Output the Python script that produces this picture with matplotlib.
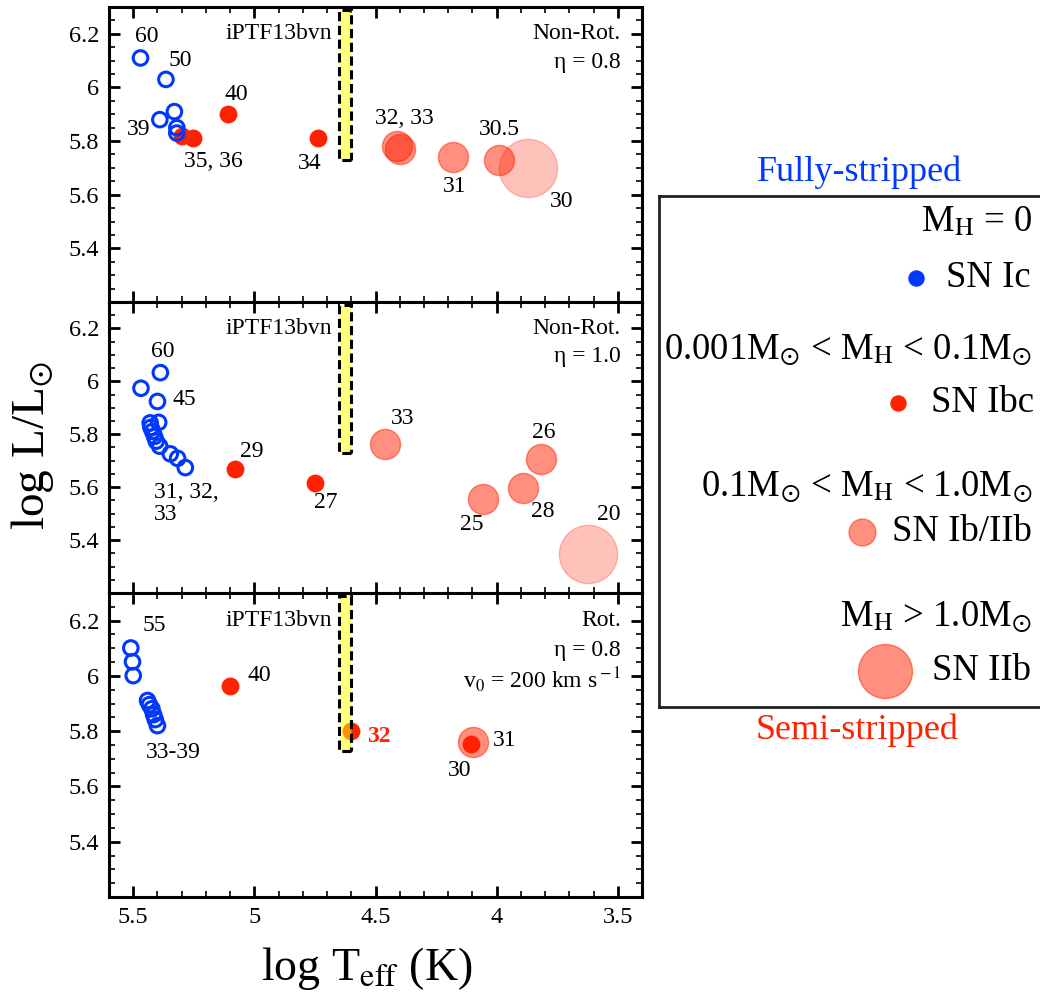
import numpy as np
import matplotlib.pyplot as plt
from matplotlib.patches import Rectangle

plt.rcParams['font.family'] = ['Liberation Serif', 'DejaVu Serif']
plt.rcParams['mathtext.fontset'] = 'stix'

# ---- data: log Teff, log L ----
# panel 1: non-rotating, eta = 0.8
ic1_x = [5.47, 5.365, 5.33, 5.39, 5.32, 5.32]
ic1_y = [6.11, 6.03, 5.91, 5.88, 5.85, 5.83]
ibc1_x = [5.30, 5.253, 5.109, 4.738]
ibc1_y = [5.82, 5.811, 5.90, 5.811]
ibiib1_x = [4.41, 4.40, 4.179, 3.989]
ibiib1_y = [5.78, 5.77, 5.74, 5.731]
iib1_x = [3.869]
iib1_y = [5.70]
lab1_txt = ["60", "50", "39", "40", "35, 36", "34", "32, 33", "31", "30.5", "30"]
lab1_x = [5.443, 5.306, 5.478, 5.074, 5.171, 4.771, 4.379, 4.174, 3.99, 3.731]
lab1_y = [6.19, 6.10, 5.844, 5.972, 5.725, 5.715, 5.885, 5.632, 5.844, 5.576]

# panel 2: non-rotating, eta = 1.0
ic2_x = [5.388, 5.468, 5.40, 5.395, 5.430, 5.427, 5.420, 5.412, 5.405, 5.391, 5.347, 5.317, 5.285]
ic2_y = [6.033, 5.974, 5.924, 5.845, 5.843, 5.826, 5.811, 5.792, 5.774, 5.755, 5.726, 5.709, 5.674]
ibc2_x = [5.079, 4.748]
ibc2_y = [5.667, 5.615]
ibiib2_x = [4.459, 3.818, 3.891, 4.057]
ibiib2_y = [5.765, 5.705, 5.595, 5.557]
iib2_x = [3.621]
iib2_y = [5.348]
lab2_txt = ["60", "45", "29", "27", "33", "26", "28", "25", "20"]
lab2_x = [5.377, 5.289, 5.01, 4.707, 4.39, 3.807, 3.811, 4.103, 3.539]
lab2_y = [6.112, 5.930, 5.736, 5.542, 5.859, 5.805, 5.508, 5.458, 5.496]

# panel 3: rotating, eta = 0.8, v0 = 200 km/s
ic3_x = [5.51, 5.503, 5.50, 5.441, 5.433, 5.423, 5.416, 5.409, 5.40]
ic3_y = [6.101, 6.051, 6.001, 5.911, 5.896, 5.881, 5.860, 5.842, 5.820]
ibc3_x = [5.099, 4.600, 4.107]
ibc3_y = [5.962, 5.800, 5.752]
ibiib3_x = [4.098]
ibiib3_y = [5.761]
iib3_x = []
iib3_y = []
lab3_txt = ["55", "40", "33-39", "31", "30"]
lab3_x = [5.413, 4.978, 5.333, 3.966, 4.153]
lab3_y = [6.182, 6.001, 5.722, 5.767, 5.659]

# iPTF13bvn progenitor box
bvn_teff = (4.60, 4.65)
bvn_lum = (5.73, 6.29)

panel_info = [
    ["Non-Rot.", "η = 0.8"],
    ["Non-Rot.", "η = 1.0"],
    ["Rot.", "η = 0.8", r"v$_0$ = 200 km s$^{\rm -1}$"],
]

BLUE = '#0038ff'
RED = '#ff2200'
MED = (1.0, 0.13, 0.0, 0.5)
BIG = (1.0, 0.13, 0.0, 0.27)

fig = plt.figure(figsize=(10.4, 10.02), dpi=100)
gs = fig.add_gridspec(3, 1, left=109/1040, right=642/1040, top=1-7/1002,
                      bottom=1-897/1002, hspace=0, height_ratios=[294, 290, 303])
axes = [fig.add_subplot(gs[i]) for i in range(3)]

panels = [
    (ic1_x, ic1_y, ibc1_x, ibc1_y, ibiib1_x, ibiib1_y, iib1_x, iib1_y, lab1_txt, lab1_x, lab1_y),
    (ic2_x, ic2_y, ibc2_x, ibc2_y, ibiib2_x, ibiib2_y, iib2_x, iib2_y, lab2_txt, lab2_x, lab2_y),
    (ic3_x, ic3_y, ibc3_x, ibc3_y, ibiib3_x, ibiib3_y, iib3_x, iib3_y, lab3_txt, lab3_x, lab3_y),
]

for i, (ax, p) in enumerate(zip(axes, panels)):
    icx, icy, ibcx, ibcy, medx, medy, bigx, bigy, ltxt, lx, ly = p
    ax.scatter(bigx, bigy, s=1760, color=BIG, lw=1, zorder=2)
    ax.scatter(medx, medy, s=470, color=MED, lw=1, zorder=3)
    ax.scatter(ibcx, ibcy, s=165, color=RED, lw=0, zorder=4)
    ax.scatter(icx, icy, s=110, facecolor='none', edgecolor=BLUE, lw=2.2, zorder=4)
    for t, x, y in zip(ltxt, lx, ly):
        ax.text(x, y, t, ha='center', va='center', fontsize=17)

    ax.add_patch(Rectangle((bvn_teff[0], bvn_lum[0]), bvn_teff[1]-bvn_teff[0],
                           bvn_lum[1]-bvn_lum[0], facecolor=(1, 1, 0, 0.5),
                           edgecolor='k', lw=2.2, ls=(0, (3, 1.5)), zorder=5))
    ax.text(4.678, 6.2, "iPTF13bvn", ha='right', va='center', fontsize=17)
    for k, line in enumerate(panel_info[i]):
        ax.text(3.487, 6.2 - 0.107*k, line, ha='right', va='center', fontsize=17)

    ax.set_xlim(5.6, 3.4)
    ax.set_ylim(5.2, 6.3)
    ax.set_xticks([5.5, 5.0, 4.5, 4.0, 3.5])
    ax.set_xticks(np.arange(3.4, 5.61, 0.1), minor=True)
    ax.set_yticks([5.4, 5.6, 5.8, 6.0, 6.2])
    ax.set_yticks(np.arange(5.2, 6.31, 0.05), minor=True)
    ax.set_yticklabels(['5.4', '5.6', '5.8', '6', '6.2'])
    ax.tick_params(which='both', direction='in', top=True, right=True, labelsize=17.5, pad=7)
    ax.tick_params(which='major', length=8, width=2)
    ax.tick_params(which='minor', length=4, width=1.2)
    for s in ax.spines.values():
        s.set_linewidth(2.2)
    if i < 2:
        ax.set_xticklabels([])
    else:
        ax.set_xticklabels(['5.5', '5', '4.5', '4', '3.5'])

# multi-line label for the low-mass group in the eta = 1.0 panel
axes[1].text(5.416, 5.539, "31, 32,\n33", ha='left', va='center', fontsize=17, linespacing=1.1)
# bold red label for 32 in rotating panel
axes[2].text(4.486, 5.782, "32", color=RED, fontweight='bold', ha='center', va='center', fontsize=17)

fig.text(33/1040, 1-445/1002, r"log L/L$_{\odot}$", rotation=90, ha='center', va='center', fontsize=34)
fig.text(367/1040, 1-968/1002, r"log T$_{\rm eff}$ (K)", ha='center', va='center', fontsize=33)

# legend panel (pixel coordinates)
lax = fig.add_axes([659/1040, 1-707/1002, (1050-659)/1040, (707-196)/1002])
lax.set_xlim(659, 1050)
lax.set_ylim(707, 196)
lax.set_xticks([])
lax.set_yticks([])
for s in lax.spines.values():
    s.set_linewidth(2)
    s.set_color('#222222')

leg_head = [r"M$_{\rm H}$ = 0",
            r"0.001M$_{\odot}$ < M$_{\rm H}$ < 0.1M$_{\odot}$",
            r"0.1M$_{\odot}$ < M$_{\rm H}$ < 1.0M$_{\odot}$",
            r"M$_{\rm H}$ > 1.0M$_{\odot}$"]
leg_head_y = [222, 350, 487, 617]
leg_name = ["SN Ic", "SN Ibc", "SN Ib/IIb", "SN IIb"]
leg_key_x = [916, 898, 862, 885]
leg_key_y = [278, 403, 532, 671]
leg_key_s = [117, 117, 377, 1510]
leg_key_c = [BLUE, RED, MED, MED]
leg_text_x = [946, 931, 892, 932]

for t, y in zip(leg_head, leg_head_y):
    lax.text(1032, y, t, ha='right', va='center', fontsize=26.5)
for t, x, y, s, c, tx in zip(leg_name, leg_key_x, leg_key_y, leg_key_s, leg_key_c, leg_text_x):
    lax.scatter([x], [y], s=s, color=c, lw=1, clip_on=False)
    lax.text(tx, y, t, ha='left', va='center', fontsize=26.5)

fig.text(860/1040, 1-172/1002, "Fully-stripped", color=BLUE, ha='center', va='center', fontsize=26)
fig.text(857/1040, 1-730/1002, "Semi-stripped", color=RED, ha='center', va='center', fontsize=26)

fig.savefig("out.png", dpi=100)
